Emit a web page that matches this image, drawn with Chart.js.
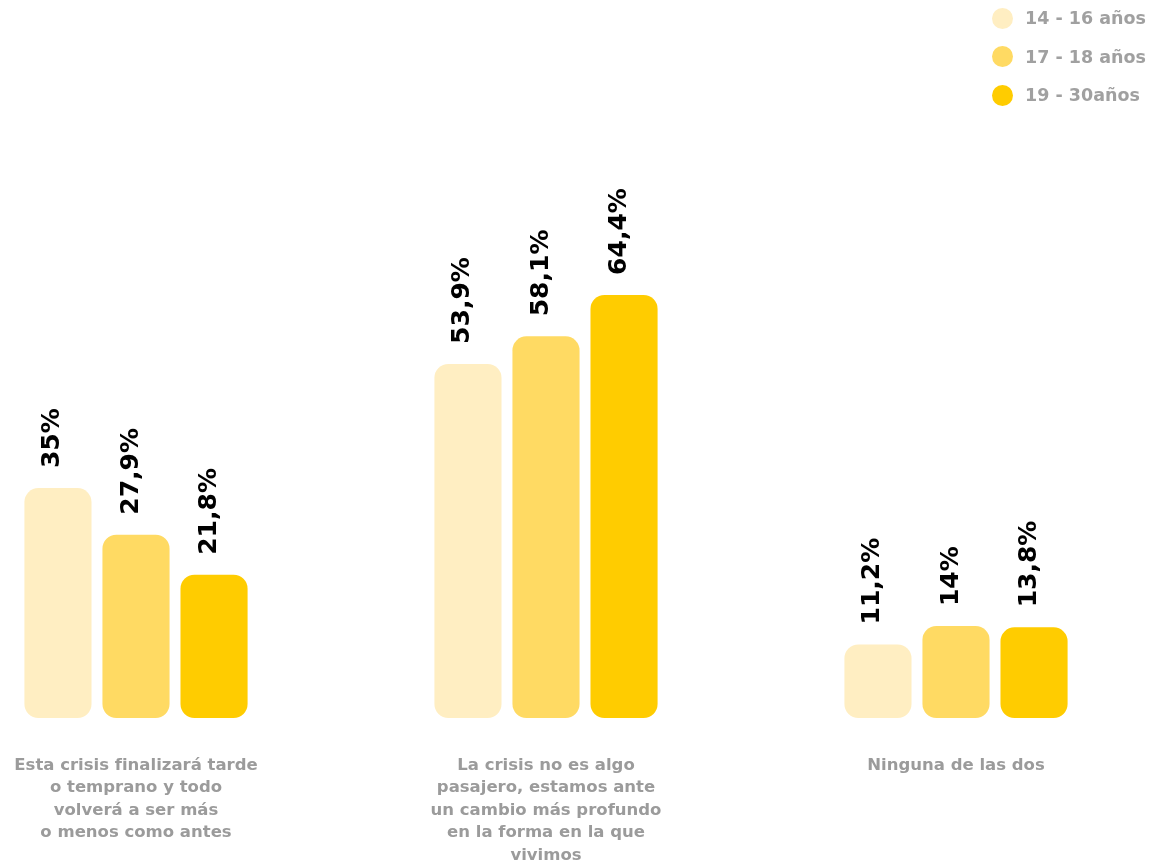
<!DOCTYPE html>
<html lang="es">
<head>
<meta charset="utf-8">
<title>Crisis - grupos de edad</title>
<script src="https://cdn.jsdelivr.net/npm/chart.js@4/dist/chart.umd.min.js"></script>
<style>
  html, body { margin: 0; padding: 0; background: #fff; }
  #wrap { position: relative; width: 1154px; height: 868px; }
  #leyenda { position: absolute; left: 992px; top: -1px; font: bold 17.5px "DejaVu Sans", sans-serif; color: #a0a0a0; }
  #leyenda div { display: flex; align-items: center; height: 38.5px; }
  #leyenda span { display: inline-block; width: 21px; height: 21px; border-radius: 50%; margin-right: 12px; }
</style>
</head>
<body>
<div id="wrap">
  <canvas id="grafico" width="1154" height="868"></canvas>
  <div id="leyenda"></div>
</div>
<script>
// categorías (una línea por elemento del array)
const categorias = [
  ["Esta crisis finalizará tarde", "o temprano y todo", "volverá a ser más", "o menos como antes"],
  ["La crisis no es algo", "pasajero, estamos ante", "un cambio más profundo", "en la forma en la que", "vivimos"],
  ["Ninguna de las dos"],
];

const grupos = ["14 - 16 años", "17 - 18 años", "19 - 30años"];
const colores = ["#FFEEC2", "#FFDA63", "#FFCC00"];

// porcentajes por grupo de edad
const edad14a16 = [35, 53.9, 11.2];
const edad17a18 = [27.9, 58.1, 14];
const edad19a30 = [21.8, 64.4, 13.8];

const series = [edad14a16, edad17a18, edad19a30];

function formatoPct(v) {
  return String(v).replace(".", ",") + "%";
}

// leyenda en HTML arriba a la derecha
const leyenda = document.getElementById("leyenda");
grupos.forEach((g, i) => {
  const fila = document.createElement("div");
  const punto = document.createElement("span");
  punto.style.background = colores[i];
  fila.appendChild(punto);
  fila.appendChild(document.createTextNode(g));
  leyenda.appendChild(fila);
});

// etiquetas verticales encima de cada barra
const etiquetasValor = {
  id: "etiquetasValor",
  afterDatasetsDraw(chart) {
    const ctx = chart.ctx;
    ctx.save();
    ctx.font = "bold 25px 'DejaVu Sans', sans-serif";
    ctx.fillStyle = "#000";
    ctx.textAlign = "left";
    ctx.textBaseline = "middle";
    chart.data.datasets.forEach((ds, i) => {
      const meta = chart.getDatasetMeta(i);
      meta.data.forEach((bar, j) => {
        ctx.save();
        ctx.translate(bar.x - 5, bar.y - 20);
        ctx.rotate(-Math.PI / 2);
        ctx.fillText(formatoPct(ds.data[j]), 0, 0);
        ctx.restore();
      });
    });
    ctx.restore();
  },
};

const chart = new Chart(document.getElementById("grafico"), {
  type: "bar",
  data: {
    labels: categorias,
    datasets: series.map((datos, i) => ({
      label: grupos[i],
      data: datos,
      backgroundColor: colores[i],
      borderRadius: 14,
      borderSkipped: false,
      barPercentage: 0.86,
      categoryPercentage: 0.571,
      clip: false,
    })),
  },
  options: {
    responsive: false,
    animation: false,
    layout: {
      padding: { left: 136, right: 198, top: 61, bottom: 0 },
    },
    scales: {
      x: {
        offset: false,
        grid: { display: false, drawTicks: false },
        border: { display: false },
        // alto fijo del eje y sin relleno lateral extra por las etiquetas
        afterFit(scale) {
          scale.height = 150;
          scale.paddingLeft = 0;
          scale.paddingRight = 0;
        },
        ticks: {
          padding: 36,
          maxRotation: 0,
          autoSkip: false,
          color: "#9b9b9b",
          font: { family: "'DejaVu Sans', sans-serif", weight: "bold", size: 16.5, lineHeight: 1.37 },
        },
      },
      y: {
        display: false,
        min: 0,
        max: 100,
      },
    },
    plugins: {
      legend: { display: false },
      tooltip: { enabled: false },
    },
  },
  plugins: [etiquetasValor],
});
</script>
</body>
</html>
